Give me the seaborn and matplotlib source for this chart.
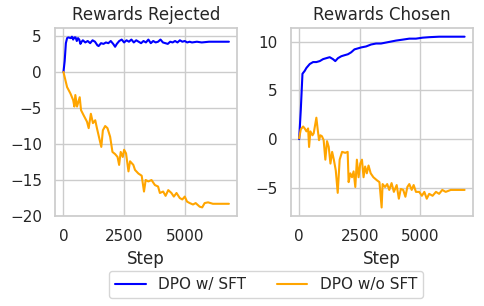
import matplotlib
matplotlib.use("Agg")
import matplotlib.pyplot as plt
import pandas as pd
import seaborn as sns

# Rewards Rejected, DPO w/ SFT
rej_sft_steps = [0, 50, 100, 150, 200, 300, 350, 400, 450, 500, 550, 600, 650, 700, 750,
                 800, 900, 1000, 1100, 1200, 1300, 1400, 1450, 1550, 1650, 1750, 1850, 1950,
                 2050, 2130, 2200, 2300, 2400, 2500, 2600, 2700, 2800, 2900, 3000, 3100, 3200,
                 3300, 3400, 3500, 3600, 3700, 3800, 3900, 4000, 4100, 4200, 4300, 4400, 4500,
                 4600, 4700, 4800, 4900, 5000, 5100, 5200, 5300, 5500, 5700, 6000, 6400, 6820]
rej_sft_vals = [0.0, 1.5, 4.0, 4.7, 4.8, 4.7, 4.9, 4.5, 4.8, 4.8, 4.3, 4.7, 4.5, 3.9, 4.2,
                4.4, 4.1, 4.3, 4.0, 4.4, 4.2, 3.7, 3.6, 4.0, 3.9, 4.1, 4.0, 4.3,
                3.9, 3.5, 3.9, 4.3, 4.5, 4.1, 4.4, 4.2, 4.5, 4.1, 4.4, 4.2, 4.0,
                4.3, 4.1, 4.5, 4.0, 4.3, 4.1, 4.2, 4.5, 4.1, 4.0, 3.9, 4.2, 4.1,
                4.3, 4.1, 4.4, 4.2, 4.3, 4.1, 4.2, 4.1, 4.2, 4.1, 4.2, 4.2, 4.2]

# Rewards Rejected, DPO w/o SFT
rej_nosft_steps = [0, 150, 290, 400, 450, 490, 560, 670, 725, 830, 970, 1040, 1130, 1215,
                   1310, 1380, 1490, 1560, 1625, 1720, 1815, 1925, 2020, 2130, 2230, 2295,
                   2360, 2445, 2500, 2580, 2680, 2745, 2880, 2950, 3090, 3225, 3320, 3390,
                   3500, 3630, 3770, 3900, 3975, 4110, 4210, 4320, 4450, 4550, 4660, 4795,
                   4900, 5000, 5095, 5205, 5340, 5450, 5615, 5720, 5820, 5960, 6160, 6435, 6820]
rej_nosft_vals = [0.0, -2.1, -3.0, -3.9, -4.8, -3.2, -4.8, -3.5, -5.3, -6.0, -6.9, -7.8, -5.8,
                  -7.1, -6.7, -7.8, -9.4, -10.4, -8.1, -7.5, -7.8, -9.0, -11.1, -11.4, -11.8,
                  -12.9, -11.1, -11.8, -10.8, -11.3, -13.8, -12.4, -12.9, -13.6, -14.1, -14.4,
                  -16.6, -15.0, -15.2, -15.0, -15.7, -15.9, -16.8, -16.6, -17.2, -16.4, -16.8,
                  -17.3, -16.8, -17.5, -17.7, -17.3, -18.0, -18.2, -18.4, -18.2, -18.7, -18.8,
                  -18.2, -18.1, -18.3, -18.3, -18.3]

# Rewards Chosen, DPO w/ SFT
cho_sft_steps = [0, 68, 137, 230, 300, 437, 574, 710, 850, 985, 1120, 1260, 1395, 1490, 1600,
                 1740, 1870, 2010, 2145, 2280, 2420, 2555, 2760, 2965, 3170, 3375, 3580, 3785,
                 3990, 4270, 4540, 4815, 5090, 5360, 5770, 6310, 6820]
cho_sft_vals = [0.0, 3.0, 6.7, 7.0, 7.3, 7.7, 7.9, 7.9, 8.0, 8.2, 8.3, 8.4, 8.2, 8.0, 8.3,
                8.5, 8.6, 8.7, 8.9, 9.2, 9.3, 9.4, 9.5, 9.7, 9.8, 9.8, 9.9, 10.0,
                10.1, 10.2, 10.3, 10.3, 10.4, 10.45, 10.5, 10.5, 10.5]

# Rewards Chosen, DPO w/o SFT
cho_nosft_steps = [0, 68, 164, 230, 300, 370, 410, 465, 550, 600, 710, 765, 820, 875, 940,
                   1010, 1080, 1150, 1220, 1290, 1360, 1430, 1510, 1590, 1670, 1770, 1900,
                   2000, 2040, 2110, 2180, 2245, 2315, 2380, 2450, 2520, 2590, 2655, 2720,
                   2790, 2860, 2950, 3060, 3200, 3310, 3400, 3440, 3540, 3630, 3715, 3810,
                   3905, 4020, 4110, 4190, 4290, 4380, 4460, 4540, 4640, 4720, 4815, 4950,
                   5060, 5160, 5260, 5360, 5500, 5640, 5770, 5900, 6040, 6250, 6450, 6820]
cho_nosft_vals = [0.1, 1.0, 1.3, 1.1, 0.8, 1.1, -0.8, 0.8, 0.4, 0.6, 2.2, 1.0, -0.1, 0.4, 0.3,
                  -0.1, -2.1, -0.2, -0.8, -2.5, -1.3, -2.1, -3.2, -5.5, -2.1, -1.3, -1.4,
                  -1.3, -4.4, -3.5, -3.9, -3.3, -4.9, -2.1, -3.9, -2.5, -2.1, -3.9, -2.8,
                  -3.5, -2.7, -3.5, -3.9, -4.2, -4.4, -7.0, -4.6, -4.9, -4.6, -5.2, -4.5,
                  -5.4, -4.7, -6.1, -5.1, -5.2, -5.9, -4.9, -4.6, -5.2, -4.7, -5.4, -5.4,
                  -5.8, -5.4, -6.1, -5.6, -5.8, -5.4, -5.6, -5.2, -5.4, -5.2, -5.2, -5.2]

panels = ["Rewards Rejected", "Rewards Chosen"]
models = ["DPO w/ SFT", "DPO w/o SFT"]
colors = {"DPO w/ SFT": "blue", "DPO w/o SFT": "orange"}

series = {
    ("Rewards Rejected", "DPO w/ SFT"): (rej_sft_steps, rej_sft_vals),
    ("Rewards Rejected", "DPO w/o SFT"): (rej_nosft_steps, rej_nosft_vals),
    ("Rewards Chosen", "DPO w/ SFT"): (cho_sft_steps, cho_sft_vals),
    ("Rewards Chosen", "DPO w/o SFT"): (cho_nosft_steps, cho_nosft_vals),
}

rows = []
for (panel, model), (steps, vals) in series.items():
    for s, v in zip(steps, vals):
        rows.append({"panel": panel, "model": model, "step": s, "reward": v})
df = pd.DataFrame(rows)

sns.set_theme(style="whitegrid")
plt.rcParams["font.family"] = ["DejaVu Sans"]

fig, axes = plt.subplots(1, 2, figsize=(4.84, 3.06), dpi=100)
for ax, panel in zip(axes, panels):
    sns.lineplot(
        data=df[df["panel"] == panel],
        x="step",
        y="reward",
        hue="model",
        hue_order=models,
        palette=colors,
        linewidth=1.5,
        legend=False,
        ax=ax,
    )
    ax.set_title(panel)
    ax.set_xlabel("Step")
    ax.set_ylabel("")
    ax.set_xticks([0, 2500, 5000])

axes[0].set_yticks([-20, -15, -10, -5, 0, 5])
axes[1].set_yticks([-5, 0, 5, 10])

handles = [plt.Line2D([], [], color=colors[m], linewidth=1.5) for m in models]
fig.legend(handles, models, loc="lower center", ncol=2,
           bbox_to_anchor=(0.55, 0.0), frameon=True)

fig.subplots_adjust(left=0.114, right=0.977, top=0.908, bottom=0.294, wspace=0.295)
fig.savefig("out.png", dpi=100)
